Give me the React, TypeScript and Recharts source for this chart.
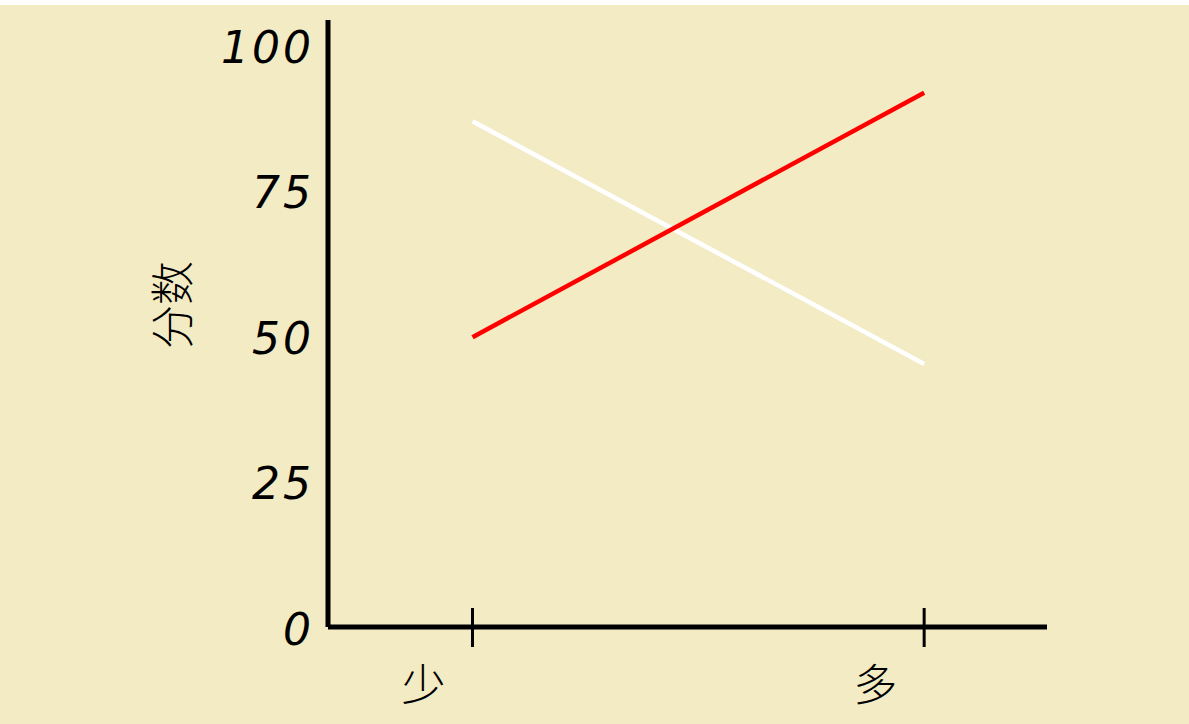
import React from 'react';
import { LineChart, Line, XAxis, YAxis } from 'recharts';

const categories = ['少', '多'];
const redValues = [49.8, 91.8];
const whiteValues = [86.9, 45.2];
const yTicks = [0, 25, 50, 75, 100];

const data = categories.map((c, i) => ({ x: i, name: c, red: redValues[i], white: whiteValues[i] }));

const digitFont = '"DejaVu Sans", sans-serif';
const cjkFont = '"Noto Sans CJK SC", sans-serif';

const XTick = (props: any) => {
  const { x, y, payload } = props;
  const label = categories[payload.value] ?? '';
  return (
    <g>
      <line x1={x} x2={x} y1={y - 19} y2={y + 20} stroke="#000" strokeWidth={3} />
      <text x={x - 49} y={y + 55} textAnchor="middle" dominantBaseline="central" fontFamily={cjkFont} fontWeight={300} fontSize={44} fill="#000">
        {label}
      </text>
    </g>
  );
};

const YTick = (props: any) => {
  const { x, y, payload } = props;
  return (
    <text x={x - 14} y={y + 2} textAnchor="end" dominantBaseline="central" fontFamily={digitFont} fontStyle="italic" fontSize={44} letterSpacing={3} fill="#000">
      {payload.value}
    </text>
  );
};

const YLabel = () => (
  <text x={170} y={300} transform="rotate(-90, 170, 300)" textAnchor="middle" dominantBaseline="central" fontFamily={cjkFont} fontWeight={300} fontSize={44} fill="#000">
    分数
  </text>
);

export default function App() {
  return (
    <div style={{ position: 'absolute', left: 0, top: 5, width: 1189, height: 719, background: '#F3EBC3' }}>
      <LineChart width={1189} height={719} data={data} margin={{ top: 15, right: 142, bottom: 0, left: 0 }}>
        <XAxis
          dataKey="x"
          type="number"
          domain={[-0.32, 1.272]}
          ticks={[0, 1]}
          axisLine={{ stroke: '#000', strokeWidth: 5 }}
          tickLine={false}
          tickSize={0}
          tickMargin={0}
          tick={<XTick />}
          height={97}
          interval={0}
        />
        <YAxis
          type="number"
          domain={[0, 104.3]}
          ticks={yTicks}
          axisLine={{ stroke: '#000', strokeWidth: 5 }}
          tickLine={false}
          tickSize={0}
          tickMargin={0}
          tick={<YTick />}
          width={328}
          interval={0}
          label={<YLabel />}
        />
        <Line dataKey="white" stroke="#FFFFFF" strokeWidth={4.5} dot={false} isAnimationActive={false} />
        <Line dataKey="red" stroke="#FF0000" strokeWidth={4.5} dot={false} isAnimationActive={false} />
      </LineChart>
    </div>
  );
}
